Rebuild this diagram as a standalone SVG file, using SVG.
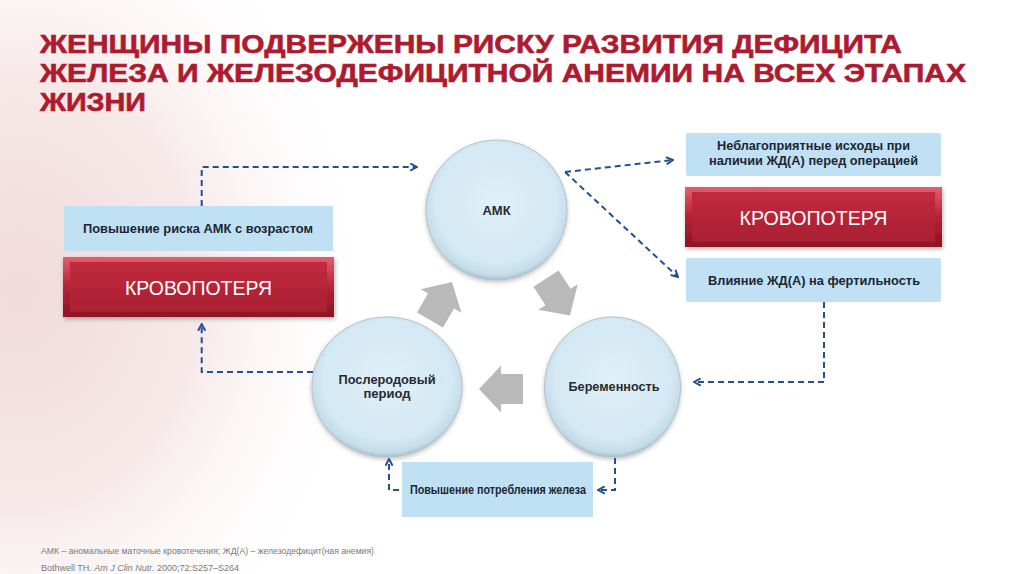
<svg xmlns="http://www.w3.org/2000/svg" width="1024" height="574" viewBox="0 0 1024 574">
<defs>
<radialGradient id="bgwash" cx="20" cy="290" r="400" gradientUnits="userSpaceOnUse" gradientTransform="translate(20,290) scale(0.9,1.1) translate(-20,-290)">
<stop offset="0" stop-color="#f1dada"/>
<stop offset="0.5" stop-color="#f7e9e9"/>
<stop offset="1" stop-color="#ffffff" stop-opacity="0"/>
</radialGradient>
<radialGradient id="circ" cx="0.5" cy="0.45" r="0.55">
<stop offset="0" stop-color="#dff0f8"/>
<stop offset="0.78" stop-color="#d4e9f4"/>
<stop offset="0.94" stop-color="#c4dce9"/>
<stop offset="1" stop-color="#a9bfcc"/>
</radialGradient>
<linearGradient id="redOuter" x1="0" y1="0" x2="0" y2="1">
<stop offset="0" stop-color="#e06070"/>
<stop offset="0.5" stop-color="#b52235"/>
<stop offset="1" stop-color="#8c1324"/>
</linearGradient>
<linearGradient id="redInner" x1="0" y1="0" x2="0" y2="1">
<stop offset="0" stop-color="#c22b3e"/>
<stop offset="1" stop-color="#aa1f32"/>
</linearGradient>
<filter id="shadow" x="-20%" y="-20%" width="140%" height="150%">
<feDropShadow dx="1" dy="2" stdDeviation="2" flood-color="#000" flood-opacity="0.3"/>
</filter>
<filter id="cshadow" x="-20%" y="-20%" width="140%" height="150%">
<feDropShadow dx="0" dy="2" stdDeviation="2" flood-color="#555" flood-opacity="0.35"/>
</filter>
<marker id="arr" viewBox="0 0 10 10" refX="9" refY="5" markerWidth="9" markerHeight="9" markerUnits="userSpaceOnUse" orient="auto">
<path d="M1.5,1 L9,5 L1.5,9" fill="none" stroke="#24508f" stroke-width="2.2"/>
</marker>
<path id="blockArrow" d="M-22,-15 L0,-15 L0,-23.5 L22,0 L0,23.5 L0,15 L-22,15 Z"/>
<style>
.title{font-family:"Liberation Sans",Arial,sans-serif;font-weight:bold;font-size:26px;fill:#ae1b30;stroke:#ae1b30;stroke-width:0.6}
.lbl{font-family:"Liberation Sans",Arial,sans-serif;font-weight:bold;font-size:13px;fill:#1c2633;text-anchor:middle}
.red-lbl{font-family:"Liberation Sans",Arial,sans-serif;font-size:20px;fill:#ffffff;text-anchor:middle}
.circ-lbl{font-family:"Liberation Sans",Arial,sans-serif;font-weight:bold;font-size:13px;fill:#262b30;text-anchor:middle}
.note{font-family:"Liberation Sans",Arial,sans-serif;font-size:9px;fill:#7a7a7a}
.box{fill:#bfe1f3}
.circle{fill:url(#circ);stroke:#b8c0c6;stroke-width:1;filter:url(#cshadow)}
.dash{fill:none;stroke:#24508f;stroke-width:2;stroke-dasharray:6 4;marker-end:url(#arr)}
.garrow{fill:#b9b9b9}
</style>
</defs>

<rect width="1024" height="574" fill="#ffffff"/>
<rect width="1024" height="574" fill="url(#bgwash)"/>

<g id="title">
<text class="title" x="40" y="53" textLength="862" lengthAdjust="spacingAndGlyphs">ЖЕНЩИНЫ ПОДВЕРЖЕНЫ РИСКУ РАЗВИТИЯ ДЕФИЦИТА</text>
<text class="title" x="40" y="82" textLength="926" lengthAdjust="spacingAndGlyphs">ЖЕЛЕЗА И ЖЕЛЕЗОДЕФИЦИТНОЙ АНЕМИИ НА ВСЕХ ЭТАПАХ</text>
<text class="title" x="40" y="111" textLength="106" lengthAdjust="spacingAndGlyphs">ЖИЗНИ</text>
</g>

<g id="connectors">
<path class="dash" d="M201.7,206 V167 H417"/>
<path class="dash" d="M313,372 H201.7 V324"/>
<path class="dash" d="M565,172 L673,160"/>
<path class="dash" d="M565,172 L678,277"/>
<path class="dash" d="M824,302 V382 H694"/>
<path class="dash" d="M615,458 V490 H598"/>
<path class="dash" d="M399,490 H389 V459"/>
<g id="cycle-arrows">
<use href="#blockArrow" class="garrow" transform="translate(441,301) rotate(-60)"/>
<use href="#blockArrow" class="garrow" transform="translate(558,297) rotate(57)"/>
<use href="#blockArrow" class="garrow" transform="translate(501,389) rotate(180)"/>
</g>
</g>

<g id="node-risk-age">
<rect class="box" x="64" y="206" width="269" height="45"/>
<text class="lbl" x="198" y="233" textLength="230" lengthAdjust="spacingAndGlyphs">Повышение риска АМК с возрастом</text>
</g>

<g id="node-bloodloss-left">
<g filter="url(#shadow)">
<rect x="63" y="257" width="271" height="60" fill="url(#redOuter)"/>
<rect x="70" y="262" width="257" height="50" fill="url(#redInner)"/>
</g>
<text class="red-lbl" x="198.5" y="295" textLength="147" lengthAdjust="spacingAndGlyphs">КРОВОПОТЕРЯ</text>
</g>

<g id="node-amk">
<ellipse class="circle" cx="496.5" cy="210" rx="70.5" ry="70"/>
<text class="circ-lbl" x="496.5" y="215" font-size="15">АМК</text>
</g>

<g id="node-postpartum">
<ellipse class="circle" cx="387" cy="387" rx="75" ry="70"/>
<text class="circ-lbl" x="387" y="384" textLength="97" lengthAdjust="spacingAndGlyphs">Послеродовый</text>
<text class="circ-lbl" x="387" y="398">период</text>
</g>

<g id="node-pregnancy">
<ellipse class="circle" cx="612.5" cy="387" rx="68" ry="70"/>
<text class="circ-lbl" x="614" y="391" textLength="91" lengthAdjust="spacingAndGlyphs">Беременность</text>
</g>

<g id="node-iron-demand">
<rect class="box" x="402" y="462" width="191" height="55"/>
<text class="lbl" x="498" y="494" font-size="11.5" textLength="176" lengthAdjust="spacingAndGlyphs">Повышение потребления железа</text>
</g>

<g id="node-surgery">
<rect class="box" x="686" y="133" width="255" height="43" rx="2"/>
<text class="lbl" x="813.5" y="150" textLength="193" lengthAdjust="spacingAndGlyphs">Неблагоприятные исходы при</text>
<text class="lbl" x="813.5" y="165" textLength="209" lengthAdjust="spacingAndGlyphs">наличии ЖД(А) перед операцией</text>
</g>

<g id="node-bloodloss-right">
<g filter="url(#shadow)">
<rect x="685" y="187" width="257" height="60" fill="url(#redOuter)"/>
<rect x="692" y="192" width="243" height="50" fill="url(#redInner)"/>
</g>
<text class="red-lbl" x="813.5" y="225" textLength="148" lengthAdjust="spacingAndGlyphs">КРОВОПОТЕРЯ</text>
</g>

<g id="node-fertility">
<rect class="box" x="686" y="258" width="255" height="44" rx="2"/>
<text class="lbl" x="814" y="285" textLength="212" lengthAdjust="spacingAndGlyphs">Влияние ЖД(А) на фертильность</text>
</g>

<g id="footnotes">
<text class="note" x="41" y="554" textLength="333" lengthAdjust="spacingAndGlyphs">АМК – аномальные маточные кровотечения; ЖД(А) – железодефицит(ная анемия)</text>
<text class="note" x="41" y="571">Bothwell TH. <tspan font-style="italic">Am J Clin Nutr.</tspan> 2000;72:S257–S264</text>
</g>
</svg>
